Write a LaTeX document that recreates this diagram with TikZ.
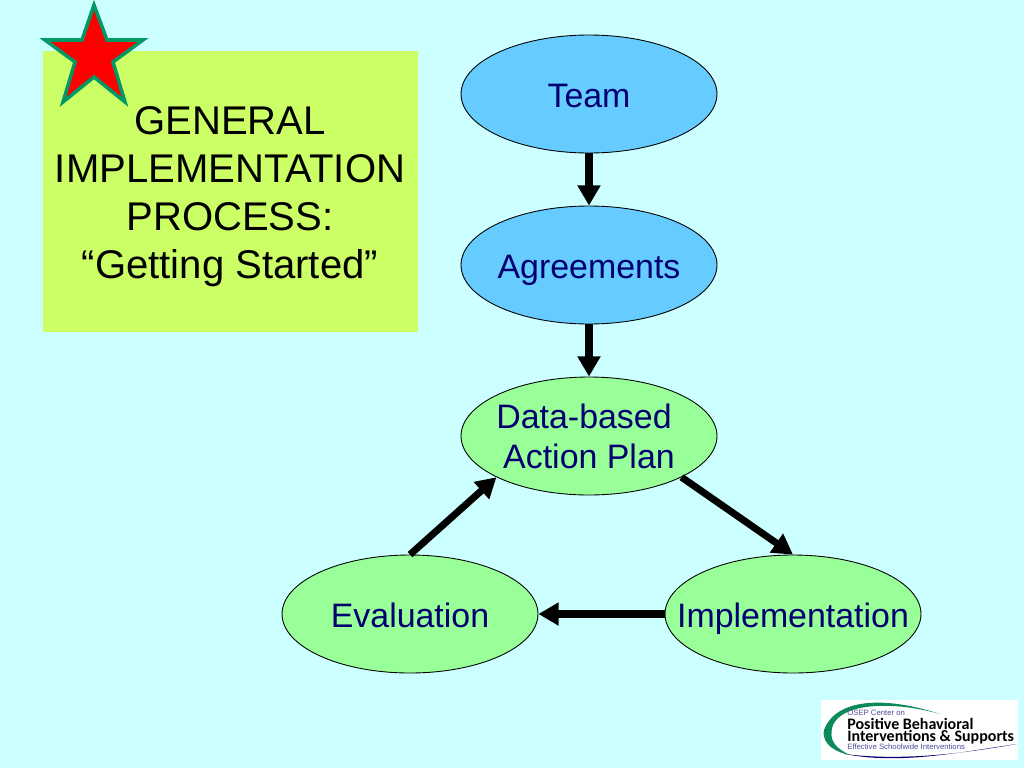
\documentclass[tikz,border=0pt]{standalone}
\usepackage{fontspec}
\setmainfont{Liberation Sans}
\newfontfamily\logofont{Carlito}
\usepackage{tikz}
\usetikzlibrary{shapes.geometric,arrows.meta}
\definecolor{bgCyan}{HTML}{CCFFFF}
\definecolor{boxLime}{HTML}{CCFF66}
\definecolor{stepBlue}{HTML}{66CCFF}
\definecolor{stepGreen}{HTML}{99FF99}
\definecolor{labelNavy}{HTML}{000070}
\definecolor{starEdge}{HTML}{009966}
\definecolor{logoGreen}{HTML}{0B8A5A}
\begin{document}
\begin{tikzpicture}[
    x=0.02cm, y=-0.02cm,
    stepNode/.style={
        ellipse, draw=black, line width=0.5pt, minimum width=5.12cm, minimum height=2.36cm,
        inner sep=-1cm, align=center, text=labelNavy,
        font=\fontsize{19.3}{22.8}\selectfont
    },
    teamNode/.style={stepNode, fill=stepBlue},
    planNode/.style={stepNode, fill=stepGreen},
    oneLine/.style={text height=14.8pt, text depth=0pt},
    flow/.style={
        -{Triangle[length=11.5pt, width=12.5pt]}, line width=4pt, draw=black
    },
    logoLine/.style={
        inner sep=0pt, anchor=base west, text=black, font=\logofont\bfseries\fontsize{9.1}{11}\selectfont
    },
    logoSmall/.style={
        inner sep=0pt, anchor=base west, text=labelNavy!70!white, font=\fontsize{4.4}{5}\selectfont
    }
]

% Background
\fill[bgCyan] (0,0) rectangle (1024,768);
\useasboundingbox (0,0) rectangle (1024,768);

% Title box
\fill[boxLime] (43,51) rectangle (418,332);
\node[align=center, inner sep=0pt, font=\fontsize{22.8}{27.3}\selectfont] (title) at (230,197) {
    GENERAL\\
    IMPLEMENTATION\\
    PROCESS:\\
    “Getting Started”
};

% Star
\draw[fill=red, draw=starEdge, line width=2pt, line join=miter]
    (94,5) -- (107,40) -- (143,40) -- (113,62) -- (125,102)
    -- (94,77) -- (63,102) -- (75,62) -- (45,40) -- (82,40) -- cycle;

% Steps
\node[teamNode, oneLine] (team) at (589,94) {Team};
\node[teamNode, oneLine] (agree) at (589,265) {Agreements};
\node[planNode] (plan) at (589,436) {Data-based\hspace*{0.2cm}\\Action Plan};
\node[planNode, oneLine] (impl) at (793,614) {Implementation};
\node[planNode, oneLine] (eval) at (410,614) {Evaluation};

% Arrows
\draw[flow] (team) -- (agree);
\draw[flow] (agree) -- (plan);
\draw[flow] (plan.-24) -- (impl.north);
\draw[flow] (impl) -- (eval);
\draw[flow] (eval.north) -- (plan.204);

% Logo
\fill[white] (821,700) rectangle (1018,760);
\fill[logoGreen] (940,714) .. controls (885,696) and (836,698) .. (824,730)
    .. controls (821,745) and (838,753) .. (850,755)
    .. controls (835,748) and (828,740) .. (833,725)
    .. controls (842,704) and (890,700) .. (940,714) -- cycle;
\fill[labelNavy] (845,754) .. controls (900,765) and (960,752) .. (1017,744)
    .. controls (960,754) and (900,761) .. (845,754) -- cycle;
\node[logoSmall] (logoTop) at (847,715) {OSEP Center on};
\node[logoLine] (logoA) at (847,729) {Positive Behavioral};
\node[logoLine] (logoB) at (847,741) {Interventions \& Supports};
\node[logoSmall] (logoBottom) at (847,749) {Effective Schoolwide Interventions};

\end{tikzpicture}
\end{document}
